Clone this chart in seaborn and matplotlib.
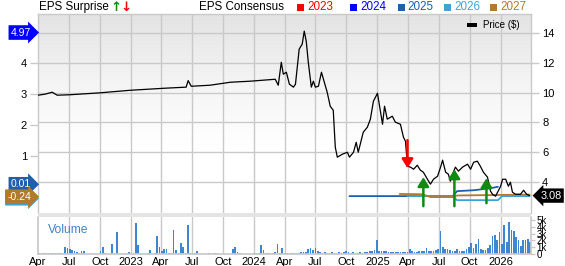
import matplotlib
matplotlib.use('Agg')
import matplotlib.pyplot as plt
import matplotlib.transforms as mtrans
from matplotlib.patches import Rectangle
from matplotlib.colors import LinearSegmentedColormap
import numpy as np
import pandas as pd
import seaborn as sns

sns.set_theme(style='white')
plt.rcParams['font.family'] = ['Liberation Sans', 'DejaVu Sans']

# ---------------- data ----------------
price_dates = ['2022-04-01', '2022-04-22', '2022-05-13', '2022-05-28', '2022-07-05', '2022-10-02',
               '2022-12-30', '2023-04-13', '2023-06-14', '2023-06-20', '2023-06-29', '2023-08-24',
               '2023-10-23', '2023-12-21', '2024-03-04', '2024-03-13', '2024-03-22', '2024-03-28',
               '2024-04-06', '2024-04-15', '2024-04-27', '2024-05-03', '2024-05-14', '2024-05-23',
               '2024-05-29', '2024-06-04', '2024-06-10', '2024-06-19', '2024-06-25', '2024-07-01',
               '2024-07-10', '2024-07-19', '2024-07-25', '2024-08-05', '2024-08-14', '2024-08-23',
               '2024-08-29', '2024-09-04', '2024-09-19', '2024-10-04', '2024-10-10', '2024-10-22',
               '2024-10-30', '2024-11-05', '2024-11-20', '2024-12-02', '2024-12-11', '2024-12-20',
               '2024-12-26', '2025-01-01', '2025-01-16', '2025-01-22', '2025-01-30', '2025-02-14',
               '2025-02-23', '2025-03-10', '2025-03-19', '2025-03-25', '2025-03-31', '2025-04-09',
               '2025-04-18', '2025-04-29', '2025-05-08', '2025-05-17', '2025-05-29', '2025-06-07',
               '2025-06-16', '2025-06-28', '2025-07-07', '2025-07-13', '2025-07-22', '2025-07-30',
               '2025-08-05', '2025-08-14', '2025-08-20', '2025-08-29', '2025-09-10', '2025-09-25',
               '2025-10-04', '2025-10-13', '2025-10-24', '2025-11-02', '2025-11-11', '2025-11-23',
               '2025-12-02', '2025-12-08', '2025-12-17', '2025-12-23', '2026-01-01', '2026-01-07',
               '2026-01-16', '2026-01-24', '2026-01-30', '2026-02-05', '2026-02-14', '2026-03-01',
               '2026-03-10', '2026-03-19', '2026-03-28']
price_values = [9.82, 9.89, 10.02, 9.82, 9.85, 9.98,
                10.15, 10.29, 10.36, 10.80, 10.42, 10.49,
                10.69, 10.76, 10.89, 10.49, 12.03, 11.23,
                11.36, 10.56, 10.36, 10.56, 12.91, 13.25,
                14.12, 13.44, 12.03, 10.36, 10.76, 10.36,
                10.42, 11.36, 10.89, 10.02, 9.08, 8.81,
                6.33, 5.66, 5.86, 5.99, 5.66, 5.99,
                6.66, 5.99, 7.34, 7.67, 8.21, 9.42,
                9.68, 9.95, 7.87, 9.08, 8.21, 8.41,
                8.01, 7.87, 7.00, 6.73, 5.05, 4.99,
                4.85, 5.12, 4.79, 4.65, 4.18, 3.85,
                4.18, 4.38, 4.99, 5.46, 4.65, 4.52,
                4.05, 4.65, 4.99, 4.72, 4.99, 5.19,
                4.85, 5.32, 5.39, 5.05, 4.65, 4.32,
                3.38, 3.17, 3.04, 3.31, 3.71, 4.18,
                4.18, 3.71, 3.98, 3.31, 3.17, 3.17,
                3.44, 3.17, 3.08]
last_price = 3.08

# EPS consensus (left axis)
cons_years = ['2023', '2024', '2025', '2026', '2027']
cons_colors = ['#ff0000', '#0000ff', '#1f5fae', '#3fa2d4', '#b07b2c']
cons_2025_dates = ['2024-10-10', '2025-08-12', '2025-08-25', '2025-10-15', '2025-12-05', '2025-12-24']
cons_2025_vals = [-0.29, -0.29, -0.13, -0.10, -0.03, 0.01]
cons_2026_dates = ['2025-03-31', '2025-08-12', '2025-08-25', '2025-12-24', '2026-01-05', '2026-03-28']
cons_2026_vals = [-0.29, -0.29, -0.42, -0.42, -0.29, -0.29]
cons_2027_dates = ['2025-03-08', '2025-05-14', '2025-06-07', '2025-08-12', '2025-08-25', '2026-03-28']
cons_2027_vals = [-0.22, -0.23, -0.32, -0.32, -0.27, -0.24]
eps_labels = ['4.97', '-0.30', '0.01', '-0.24']
eps_label_vals = [4.97, -0.36, 0.09, -0.31]
eps_label_colors = ['#0000ff', '#3fa2d4', '#1f5fae', '#b07b2c']

# EPS surprise arrows (drawn at price level)
surprise_dates = ['2025-03-31', '2025-05-17', '2025-08-17', '2025-11-20']
surprise_from = [6.80, 2.37, 2.37, 2.57]
surprise_to = [4.92, 4.32, 4.85, 4.25]
surprise_up = [False, True, True, True]

# weekly volume (thousands)
volume_k = [0.1, 0.2, 0.2, 0.1, 0.1, 0.1, 0.1, 0.1, 0.1, 0.1,
            0.1, 1.1, 0.9, 0.7, 0.6, 0.5, 0.3, 0.1, 0.5, 0.4,
            0.05, 0.05, 0.05, 0.05, 0.05, 0.05, 0.4, 1.0, 0.1, 0.05,
            0.05, 1.5, 0.1, 3.2, 0.05, 0.05, 0.05, 0.1, 0.3, 0.05,
            0.1, 4.6, 1.3, 0.1, 0.05, 0.05, 0.1, 0.6, 0.05, 0.1,
            2.6, 1.0, 0.5, 0.7, 0.7, 0.1, 0.1, 3.5, 0.6, 0.1,
            1.6, 1.0, 0.2, 4.3, 0.2, 0.2, 0.1, 0.4, 0.05, 0.05,
            0.05, 0.05, 0.1, 0.05, 0.1, 0.1, 0.05, 0.05, 0.05, 0.05,
            0.05, 0.05, 0.8, 1.0, 0.3, 0.1, 0.05, 0.05, 0.05, 0.05,
            0.05, 0.1, 0.1, 0.1, 1.3, 0.6, 0.1, 0.2, 0.2, 0.2,
            0.3, 1.4, 0.2, 0.9, 0.2, 0.2, 0.2, 0.2, 0.2, 0.2,
            0.2, 0.3, 0.3, 0.3, 0.8, 0.9, 0.6, 0.9, 0.4, 0.3,
            0.2, 0.3, 0.2, 0.2, 0.3, 0.2, 0.2, 0.3, 0.2, 0.3,
            0.5, 0.3, 0.2, 0.3, 0.2, 0.2, 0.3, 0.2, 0.3, 0.3,
            0.4, 0.5, 0.6, 2.1, 0.4, 0.5, 0.4, 0.4, 0.3, 0.3,
            0.3, 0.3, 0.3, 0.3, 0.3, 0.3, 0.3, 0.8, 0.5, 0.3,
            0.3, 0.4, 0.5, 0.4, 0.9, 0.4, 0.4, 0.4, 0.6, 0.7,
            3.4, 1.0, 0.7, 0.7, 0.6, 0.4, 0.5, 0.7, 0.4, 0.5,
            0.5, 0.8, 1.0, 1.6, 0.9, 1.4, 2.2, 0.8, 0.6, 0.6,
            0.9, 1.3, 2.7, 2.8, 2.0, 3.2, 1.5, 4.3, 1.8, 4.7,
            3.5, 3.4, 2.5, 2.0, 1.2, 2.0, 2.0, 2.2, 1.8]
volume_start = '2022-04-04'

tick_dates = ['2022-04-01', '2022-07-01', '2022-10-01', '2023-01-01', '2023-04-01', '2023-07-01',
              '2023-10-01', '2024-01-01', '2024-04-01', '2024-07-01', '2024-10-01', '2025-01-01',
              '2025-04-01', '2025-07-01', '2025-10-01', '2026-01-01']
tick_labels = ['Apr', 'Jul', 'Oct', '2023', 'Apr', 'Jul', 'Oct', '2024', 'Apr', 'Jul', 'Oct',
               '2025', 'Apr', 'Jul', 'Oct', '2026']
price_ticks = [4, 6, 8, 10, 12, 14]
eps_ticks = [1, 2, 3, 4]
vol_ticks = [0, 1, 2, 3, 4, 5]
vol_tick_labels = ['0', '1k', '2k', '3k', '4k', '5k']

# ---------------- layout ----------------
W, H = 565, 266
fig = plt.figure(figsize=(W / 100, H / 100), dpi=100)
fig.patch.set_facecolor('white')


def fx(px):
    return px / W


def fy(py):
    return 1 - py / H


L, R, T, B = 38, 531, 14, 213
VT, VB = 217, 254
xmin, xmax = pd.Timestamp('2022-04-01'), pd.Timestamp('2026-04-01')
grid_c = '#c9c9c9'
tdates = pd.to_datetime(tick_dates)

# background with gradient + grid
bg = fig.add_axes([fx(L), fy(B), (R - L) / W, (B - T) / H])
cmap = LinearSegmentedColormap.from_list('g', ['#e3e3e3', '#f4f4f4', '#ffffff', '#ffffff'])
grad = np.linspace(0, 1, 200).reshape(-1, 1)
bg.imshow(grad, extent=[0, 1, 0, 1], transform=bg.transAxes, aspect='auto', cmap=cmap, zorder=0)
bg.set_xlim(xmin, xmax)
bg.set_ylim(1.913, 15.27)
for d in tdates[1:]:
    bg.axvline(d, color=grid_c, lw=1, zorder=1)
for p in price_ticks:
    bg.axhline(p, color=grid_c, lw=1, zorder=1)
bg.set_xticks([])
bg.set_yticks([])
for s in ['left', 'right', 'top']:
    bg.spines[s].set_color(grid_c)
    bg.spines[s].set_linewidth(1)
bg.spines['bottom'].set_visible(False)

# EPS axis (left)
ax = fig.add_axes([fx(L), fy(B), (R - L) / W, (B - T) / H])
ax.patch.set_alpha(0)
for s in ax.spines.values():
    s.set_visible(False)
ax.set_xlim(xmin, xmax)
ax.set_ylim(-0.833, 5.566)

for dates, vals, col in [(cons_2025_dates, cons_2025_vals, cons_colors[2]),
                         (cons_2026_dates, cons_2026_vals, cons_colors[3]),
                         (cons_2027_dates, cons_2027_vals, cons_colors[4])]:
    sns.lineplot(x=pd.to_datetime(dates), y=vals, ax=ax, color=col, lw=1.3)

ax.set_yticks(eps_ticks)
ax.set_yticklabels([str(t) for t in eps_ticks])
ax.tick_params(axis='y', left=True, right=False, length=6, width=1, color=grid_c,
               labelsize=8, pad=2, labelcolor='black')
ax.set_xticks([])
ax.set_xlabel('')
ax.set_ylabel('')

lbl_tr = mtrans.blended_transform_factory(ax.transAxes, ax.transData)
for txt, v, c in zip(eps_labels, eps_label_vals, eps_label_colors):
    ax.text(-0.014, v, txt, transform=lbl_tr, ha='right', va='center', fontsize=7.5,
            color='white', clip_on=False,
            bbox=dict(boxstyle='rarrow,pad=0.22', fc=c, ec=c, lw=0))

# price axis (right)
ax2 = ax.twinx()
ax2.set_position([fx(L), fy(B), (R - L) / W, (B - T) / H])
ax2.patch.set_alpha(0)
for s in ax2.spines.values():
    s.set_visible(False)
sns.lineplot(x=pd.to_datetime(price_dates), y=price_values, ax=ax2, color='black', lw=0.9)
ax2.set_xlim(xmin, xmax)
ax2.set_ylim(1.913, 15.27)
ax2.set_yticks(price_ticks)
ax2.set_yticklabels([str(t) for t in price_ticks])
ax2.tick_params(axis='y', right=True, left=False, labelright=True, labelleft=False,
                length=6, width=1, color=grid_c, labelsize=8, pad=2, labelcolor='black')
ax2.set_xticks([])
ax2.set_xlabel('')
ax2.set_ylabel('')

for d, y0, y1, up in zip(surprise_dates, surprise_from, surprise_to, surprise_up):
    col = '#128a12' if up else '#ff0000'
    ax2.annotate('', xy=(pd.Timestamp(d), y1), xytext=(pd.Timestamp(d), y0),
                 arrowprops=dict(arrowstyle='-|>,head_width=0.28,head_length=0.45',
                                 color=col, lw=1.8, mutation_scale=12, shrinkA=0, shrinkB=0))

pr_tr = mtrans.blended_transform_factory(ax2.transAxes, ax2.transData)
ax2.text(1.019, last_price, '%.2f' % last_price, transform=pr_tr, ha='left', va='center',
         fontsize=7.8, color='white', clip_on=False,
         bbox=dict(boxstyle='larrow,pad=0.2', fc='black', ec='black', lw=0))

# band between panels
fig.patches.append(Rectangle((fx(L), fy(VT)), (R - L) / W, (VT - B) / H,
                             transform=fig.transFigure, fc='#e4e4e4', ec='none', zorder=0))

# volume panel
axv = fig.add_axes([fx(L), fy(VB), (R - L) / W, (VB - VT) / H])
axv.set_facecolor('white')
vdates = pd.date_range(volume_start, periods=len(volume_k), freq='7D')
for d in tdates[1:]:
    axv.axvline(d, color=grid_c, lw=1, zorder=0)
axv.bar(vdates, volume_k, width=5.0, color='#3f86d0', linewidth=0, zorder=2)
axv.set_xlim(xmin, xmax)
axv.set_ylim(0, 5.45)
axv.set_xticks(tdates)
axv.set_xticklabels(tick_labels)
axv.tick_params(axis='x', length=0, labelsize=8, pad=2, labelcolor='black')
axv.yaxis.tick_right()
axv.set_yticks(vol_ticks)
axv.set_yticklabels(vol_tick_labels)
axv.tick_params(axis='y', right=True, left=False, length=3, width=1, color=grid_c,
                labelsize=7, pad=1, labelcolor='black')
for s in ['left', 'right', 'bottom']:
    axv.spines[s].set_color(grid_c)
axv.spines['top'].set_visible(False)
axv.text(0.02, 0.65, 'Volume', transform=axv.transAxes, fontsize=8.7, color='#3d85c6',
         ha='left', va='center')

# header
fig.text(fx(39), fy(7), 'EPS Surprise', fontsize=8.4, ha='left', va='center', color='black')
fig.text(fx(110), fy(7.5), '↑', fontsize=9.5, ha='left', va='center', color='#128a12', fontweight='bold',
         family=['DejaVu Sans'])
fig.text(fx(120), fy(7.5), '↓', fontsize=9.5, ha='left', va='center', color='#ff0000', fontweight='bold',
         family=['DejaVu Sans'])
fig.text(fx(199), fy(7), 'EPS Consensus', fontsize=8.4, ha='left', va='center', color='black')
sq_x = [297, 350, 398, 444, 490]
tx_x = [307, 360, 407, 454, 500]
for sx, tx, yr, c in zip(sq_x, tx_x, cons_years, cons_colors):
    fig.patches.append(Rectangle((fx(sx), fy(10.5)), 7 / W, 7 / H, transform=fig.transFigure,
                                 fc=c, ec='none'))
    fig.text(fx(tx), fy(7), yr, fontsize=8.4, ha='left', va='center', color=c)

fig.patches.append(Rectangle((fx(467), fy(27)), 10 / W, 4 / H, transform=fig.transFigure,
                             fc='black', ec='none', zorder=5))
fig.text(fx(483), fy(25), 'Price ($)', fontsize=7, ha='left', va='center', color='black', zorder=5)

fig.savefig('out.png', dpi=100, facecolor='white')
